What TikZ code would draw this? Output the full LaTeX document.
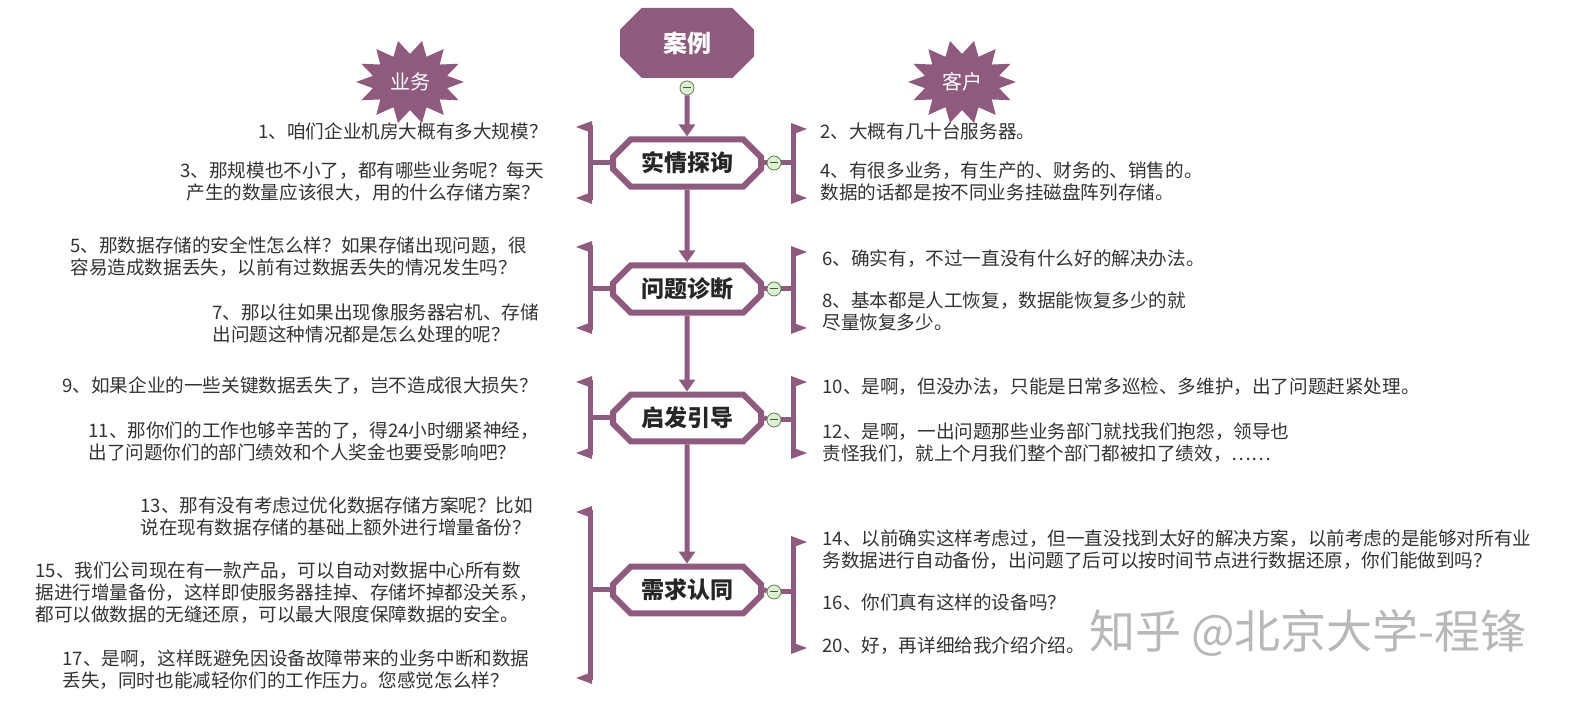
\documentclass[tikz,border=0pt]{standalone}
\usepackage{fontspec}
\newfontfamily\cjk{Noto Sans CJK SC}
\usetikzlibrary{shapes.misc,arrows.meta,calc}
\definecolor{pur}{HTML}{8E5A7E}
\definecolor{mgreen}{HTML}{7DBE5A}
\begin{document}
\begin{tikzpicture}[x=0.5pt,y=-0.5pt,
  txt/.style={font=\cjk\fontsize{9.3}{11.2}\selectfont,inner sep=0,align=left,text=black!80},
  stage/.style={chamfered rectangle,chamfered rectangle xsep=6pt,draw=pur,line width=3pt,fill=white,minimum width=74pt,minimum height=21pt,font=\cjk\bfseries\fontsize{11.5}{11.5}\selectfont,text=black!85},
  minus/.style={circle,draw=mgreen!70!black,fill=mgreen!25,minimum size=7pt,inner sep=0,path picture={\draw[mgreen!50!black,line width=0.5pt] ([xshift=-2pt]path picture bounding box.center)--([xshift=2pt]path picture bounding box.center);}},
  bursttxt/.style={text=white,font=\cjk\fontsize{10}{10}\selectfont},
  br/.style={draw=pur,line width=2.5pt},
  tip/.style={-{Triangle[length=6pt,width=8pt]},draw=pur,line width=2.5pt}]
\useasboundingbox (0,0) rectangle (1573,704);
\node[chamfered rectangle,chamfered rectangle xsep=8pt,fill=pur,minimum width=67pt,minimum height=35pt,text=white,font=\cjk\bfseries\fontsize{12}{12}\selectfont] (case) at (687,43) {案例};
\node[minus] (m0) at (687,88) {};
\foreach \cx in {410,962}{
  \fill[pur] plot[samples=29,domain=0:28,variable=\k] ({\cx+(mod(\k,2)==0?54:38)*cos(\k*360/28)},{82+(mod(\k,2)==0?42:28)*sin(\k*360/28)}) -- cycle;
}
\node[bursttxt] (yw) at (410,82) {业务};
\node[bursttxt] (kh) at (962,82) {客户};
\node[stage] (s1) at (687,163) {实情探询};
\node[stage] (s2) at (687,289) {问题诊断};
\node[stage] (s3) at (687,418) {启发引导};
\node[stage] (s4) at (687,590) {需求认同};
\draw[tip] (m0) -- (s1);
\draw[tip] (s1) -- (s2);
\draw[tip] (s2) -- (s3);
\draw[tip] (s3) -- (s4);
\foreach \i/\y in {1/163,2/289,3/420,4/592}{\node[minus] (mr\i) at (774,\y) {};}
\foreach \s/\yc/\ya/\yb in {s1/163/125/200,s2/289/245/330,s3/418/380/455,s4/590/510/680}{
  \coordinate (la) at (590,\ya); \coordinate (lb) at (590,\yb); \coordinate (lc) at (590,\yc);
  \draw[br] (la) -- (lb);
  \draw[br] (lc) -- (\s.west);
  \fill[pur] ($(la)+(2,-4)$) -- ++(-16,6) -- ++(16,6) -- cycle;
  \fill[pur] ($(lb)+(2,-8)$) -- ++(-16,6) -- ++(16,6) -- cycle;
}
\foreach \m/\yc/\ya/\yb in {mr1/163/127/200,mr2/289/250/330,mr3/420/380/455,mr4/592/540/650}{
  \coordinate (ra) at (793,\ya); \coordinate (rb) at (793,\yb); \coordinate (rc) at (793,\yc);
  \draw[br] (ra) -- (rb);
  \draw[br] (\m.east) -- (rc);
  \fill[pur] ($(ra)+(-2,-4)$) -- ++(16,6) -- ++(-16,6) -- cycle;
  \fill[pur] ($(rb)+(-2,-8)$) -- ++(16,6) -- ++(-16,6) -- cycle;
}
\draw[br] (s1.east) -- (mr1); \draw[br] (s2.east) -- (mr2); \draw[br] (s3.east) -- (mr3); \draw[br] (s4.east) -- (mr4);
\node[txt,anchor=north west] (t1) at (258,122) {1、咱们企业机房大概有多大规模？};
\node[txt,anchor=north west] (t3) at (180,161) {3、那规模也不小了，都有哪些业务呢？每天\\\hspace{3pt}产生的数量应该很大，用的什么存储方案？};
\node[txt,anchor=north west] (t5) at (70,236) {5、那数据存储的安全性怎么样？如果存储出现问题，很\\容易造成数据丢失，以前有过数据丢失的情况发生吗？};
\node[txt,anchor=north west] (t7) at (212,303) {7、那以往如果出现像服务器宕机、存储\\出问题这种情况都是怎么处理的呢？};
\node[txt,anchor=north west] (t9) at (62,376) {9、如果企业的一些关键数据丢失了，岂不造成很大损失？};
\node[txt,anchor=north west] (t11) at (88,421) {11、那你们的工作也够辛苦的了，得24小时绷紧神经，\\出了问题你们的部门绩效和个人奖金也要受影响吧？};
\node[txt,anchor=north west] (t13) at (140,496) {13、那有没有考虑过优化数据存储方案呢？比如\\说在现有数据存储的基础上额外进行增量备份？};
\node[txt,anchor=north west] (t15) at (35,561) {15、我们公司现在有一款产品，可以自动对数据中心所有数\\据进行增量备份，这样即使服务器挂掉、存储坏掉都没关系，\\都可以做数据的无缝还原，可以最大限度保障数据的安全。};
\node[txt,anchor=north west] (t17) at (62,649) {17、是啊，这样既避免因设备故障带来的业务中断和数据\\丢失，同时也能减轻你们的工作压力。您感觉怎么样？};
\node[txt,anchor=north west] (t2) at (820,122) {2、大概有几十台服务器。};
\node[txt,anchor=north west] (t4) at (820,161) {4、有很多业务，有生产的、财务的、销售的。\\数据的话都是按不同业务挂磁盘阵列存储。};
\node[txt,anchor=north west] (t6) at (822,249) {6、确实有，不过一直没有什么好的解决办法。};
\node[txt,anchor=north west] (t8) at (822,291) {8、基本都是人工恢复，数据能恢复多少的就\\尽量恢复多少。};
\node[txt,anchor=north west] (t10) at (822,377) {10、是啊，但没办法，只能是日常多巡检、多维护，出了问题赶紧处理。};
\node[txt,anchor=north west] (t12) at (822,422) {12、是啊，一出问题那些业务部门就找我们抱怨，领导也\\责怪我们，就上个月我们整个部门都被扣了绩效，……};
\node[txt,anchor=north west] (t14) at (822,529) {14、以前确实这样考虑过，但一直没找到太好的解决方案，以前考虑的是能够对所有业\\务数据进行自动备份，出问题了后可以按时间节点进行数据还原，你们能做到吗？};
\node[txt,anchor=north west] (t16) at (822,593) {16、你们真有这样的设备吗？};
\node[txt,anchor=north west] (t20) at (822,636) {20、好，再详细给我介绍介绍。};
\node[font=\cjk\fontsize{23}{23}\selectfont,text=black!35,opacity=0.8] (wm) at (1308,633) {知乎 @北京大学-程锋};
\end{tikzpicture}
\end{document}
